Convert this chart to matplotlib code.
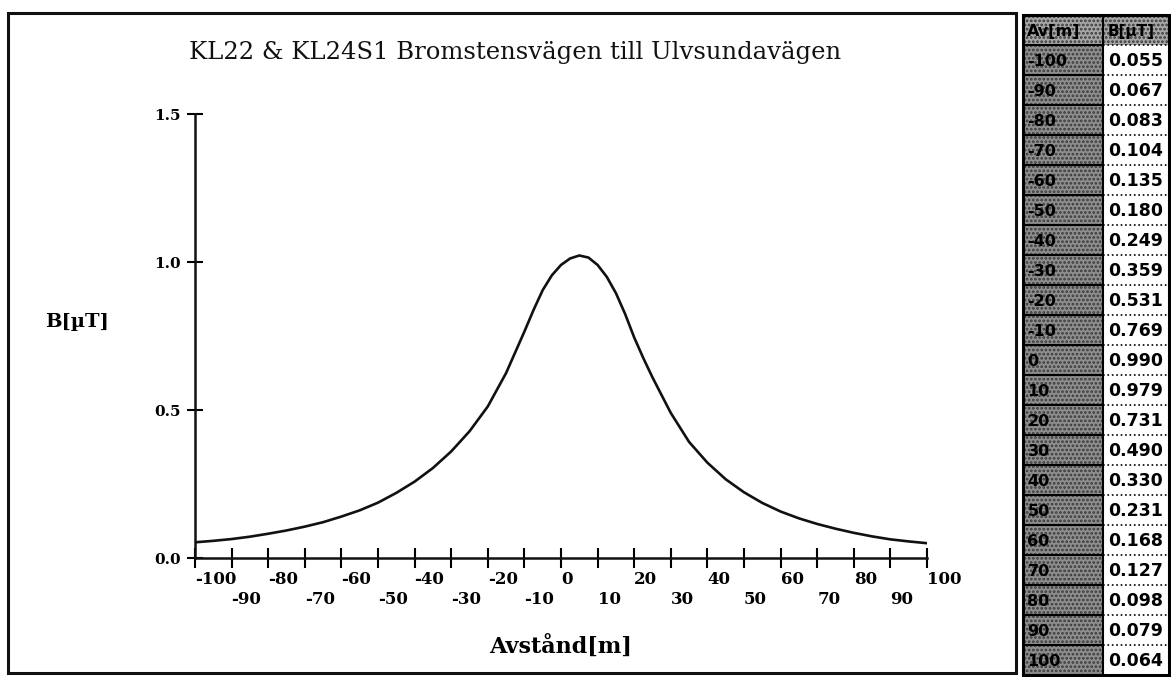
import numpy as np
import matplotlib.pyplot as plt
from matplotlib.patches import Rectangle

# curve (5 m steps, a few extra near the top)
dist = [-100, -95, -90, -85, -80, -75, -70, -65, -60, -55, -50, -45, -40, -35,
        -30, -25, -20, -15, -12.5, -10, -7.5, -5, -2.5, 0, 2.5, 5, 7.5, 10, 12.5,
        15, 17.5, 20, 22.5, 25, 30, 35, 40, 45, 50, 55, 60, 65, 70, 75, 80, 85,
        90, 95, 100]
field = [0.053, 0.058, 0.064, 0.072, 0.082, 0.093, 0.106, 0.121, 0.140, 0.161,
         0.187, 0.220, 0.258, 0.304, 0.360, 0.428, 0.512, 0.625, 0.695, 0.765,
         0.838, 0.905, 0.955, 0.990, 1.012, 1.022, 1.015, 0.990, 0.950, 0.895,
         0.825, 0.745, 0.675, 0.610, 0.490, 0.392, 0.322, 0.266, 0.222, 0.186,
         0.157, 0.134, 0.115, 0.099, 0.085, 0.073, 0.063, 0.056, 0.050]

# table on the right
tab_dist = [-100, -90, -80, -70, -60, -50, -40, -30, -20, -10, 0,
            10, 20, 30, 40, 50, 60, 70, 80, 90, 100]
tab_field = [0.055, 0.067, 0.083, 0.104, 0.135, 0.180, 0.249, 0.359, 0.531,
             0.769, 0.990, 0.979, 0.731, 0.490, 0.330, 0.231, 0.168, 0.127,
             0.098, 0.079, 0.064]
tab_head = ["Av[m]", "B[\u00b5T]"]

xticks_top = list(range(-100, 101, 20))   # upper label row
xticks_low = list(range(-90, 91, 20))     # lower label row
yticks = [0.0, 0.5, 1.0, 1.5]
title = "KL22 & KL24S1 Bromstensv\u00e4gen till Ulvsundav\u00e4gen"

W, H = 1171, 677
fig = plt.figure(figsize=(W / 100, H / 100), dpi=100)
fig.patch.set_facecolor("white")
plt.rcParams["hatch.linewidth"] = 1.3

# outer frame round the chart
fig.patches.append(Rectangle((8 / W, 4 / H), 1008 / W, 660 / H, transform=fig.transFigure,
                             fill=False, edgecolor="#111111", linewidth=2.2))

fig.text(515 / W, 1 - 52 / H, title, ha="center", va="center",
         family="DejaVu Serif", fontsize=17.5, color="#111111")

ax = fig.add_axes([195 / W, 1 - 558 / H, 732 / W, 444 / H])
ax.plot(dist, field, color="#111111", linewidth=1.9)
ax.set_xlim(-100, 100)
ax.set_ylim(0, 1.5)
for s in ["top", "right"]:
    ax.spines[s].set_visible(False)
for s in ["left", "bottom"]:
    ax.spines[s].set_linewidth(1.8)
    ax.spines[s].set_color("#111111")

tick_font = dict(family="DejaVu Serif", fontweight="bold", fontsize=12, ha="left")
ax.set_xticks(xticks_top)
ax.set_xticklabels([str(t) for t in xticks_top], **tick_font)
ax.set_xticks(xticks_low, minor=True)
ax.set_xticklabels([str(t) for t in xticks_low], minor=True, **tick_font)
ax.set_yticks(yticks)
ax.set_yticklabels(["%.1f" % v for v in yticks], family="DejaVu Serif",
                   fontweight="bold", fontsize=11)
ax.tick_params(axis="x", which="major", direction="inout", length=14, width=1.5, pad=2)
ax.tick_params(axis="x", which="minor", direction="inout", length=14, width=1.5, pad=17)
ax.tick_params(axis="y", direction="inout", length=12, width=1.5, pad=4)

ax.set_ylabel("B[\u00b5T]", rotation=0, family="DejaVu Serif", fontweight="bold",
              fontsize=14, ha="center", va="center")
ax.yaxis.set_label_coords((77 - 195) / 732, (558 - 322) / 444)
ax.set_xlabel("Avst\u00e5nd[m]", family="DejaVu Serif", fontweight="bold",
              fontsize=16, ha="center", va="center")
ax.xaxis.set_label_coords((561 - 195) / 732, (558 - 646) / 444)

# table
tx = fig.add_axes([1023 / W, 1 - 675 / H, 146 / W, 660 / H])
nrow = len(tab_dist) + 1
tx.set_xlim(0, 1)
tx.set_ylim(nrow, 0)
tx.axis("off")
split = 0.55
for r in range(nrow):
    cells = [(0, split, "#8e8e8e" if r else "#a6a6a6")]
    if r == 0:
        cells.append((split, 1 - split, "#a6a6a6"))
    for x0, w, fc in cells:
        tx.add_patch(Rectangle((x0, r), w, 1, facecolor=fc, edgecolor="none"))
        tx.add_patch(Rectangle((x0, r), w, 1, facecolor="none", edgecolor="#3a3a3a",
                               hatch="....", linewidth=0))
    if r == 0:
        labels = tab_head
    else:
        labels = [str(tab_dist[r - 1]), "%.3f" % tab_field[r - 1]]
    tx.text(0.03, r + 0.55, labels[0], ha="left", va="center", family="DejaVu Sans",
            fontweight="bold", fontsize=11.5, color="black")
    tx.text(split + 0.03, r + 0.55, labels[1], ha="left", va="center",
            family="DejaVu Sans", fontweight="bold", fontsize=12.5 if r else 11,
            color="black")
    if r > 0:
        tx.plot([0, split], [r, r], color="black", linewidth=1.5)
        tx.plot([split, 1], [r, r], color="black", linewidth=1.2, linestyle=":")
tx.plot([split, split], [0, nrow], color="black", linewidth=1.5)
tx.add_patch(Rectangle((0, 0), 1, nrow, fill=False, edgecolor="black", linewidth=2.2,
                       clip_on=False))

fig.savefig("out.png", dpi=100)
